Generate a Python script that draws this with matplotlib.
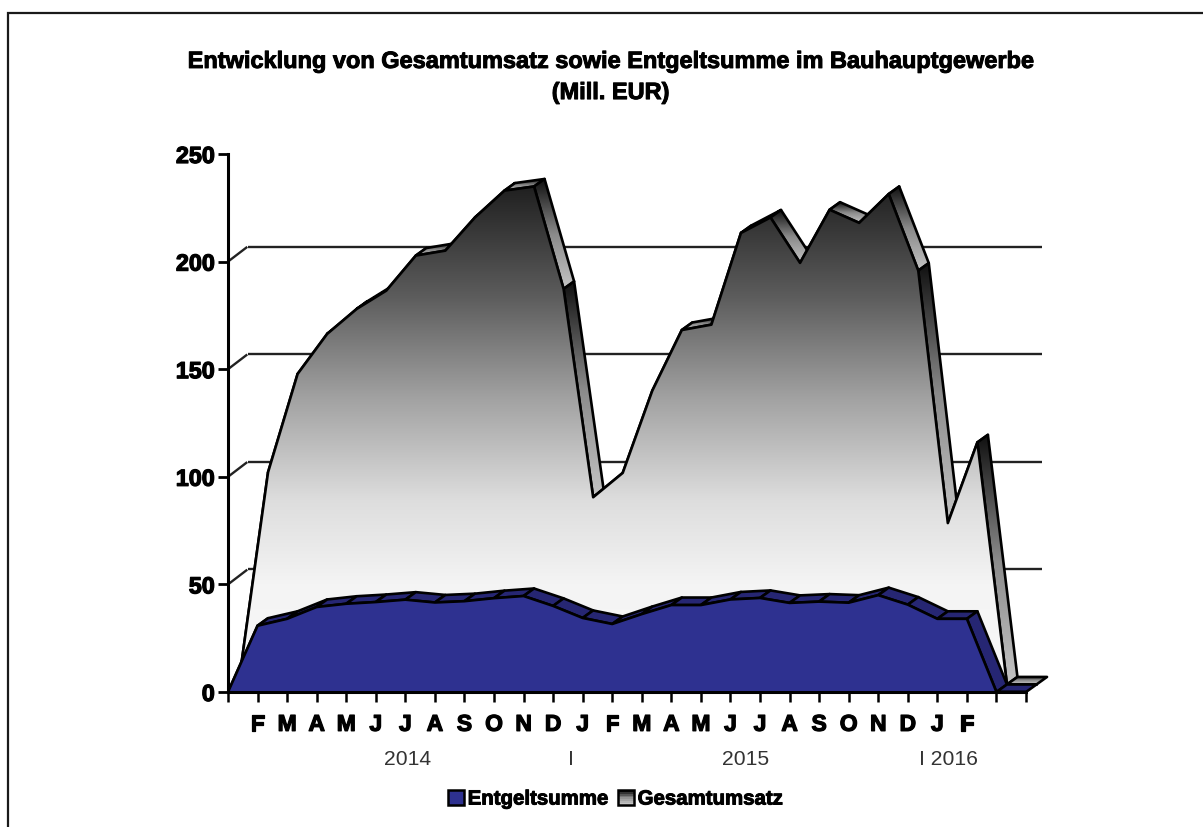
import numpy as np
import matplotlib
matplotlib.use("Agg")
import matplotlib.pyplot as plt
from matplotlib.patches import Polygon, Rectangle, Patch
from matplotlib.lines import Line2D
from matplotlib.colors import LinearSegmentedColormap
from matplotlib.legend_handler import HandlerBase
import matplotlib.patheffects as pe

plt.rcParams['font.family'] = ['Liberation Sans', 'DejaVu Sans']

TITLE = "Entwicklung von Gesamtumsatz sowie Entgeltsumme im Bauhauptgewerbe\n(Mill. EUR)"
months = ["", "F", "M", "A", "M", "J", "J", "A", "S", "O", "N", "D",
          "J", "F", "M", "A", "M", "J", "J", "A", "S", "O", "N", "D",
          "J", "F", "", ""]
entgeltsumme = [0, 30.8, 34, 39.5, 41, 41.8, 42.9, 41.6, 42.2, 43.6, 44.6, 40,
                34.4, 31.6, 36.2, 40.4, 40.4, 43, 43.7, 41.4, 42, 41.5, 45, 40.6,
                34, 34, 0, 0]
gesamtumsatz = [0, 98.6, 144.3, 162.9, 174.5, 183, 199.3, 201.6, 217, 229.5, 231.4, 183.8,
                87, 98.3, 136.5, 164.7, 167.2, 209.8, 217, 195.9, 220.6, 214.5, 227.9, 192.3,
                75, 112.5, 0, 0]
y_ticks = [0, 50, 100, 150, 200, 250]
year_labels = ["2014", "I", "2015", "I 2016"]
year_pos = [6.09, 11.6, 17.5, 24.37]

W, H = 1203, 828
fig = plt.figure(figsize=(W / 100, H / 100), dpi=100, facecolor='white')
TICK_PX = 29.556
x_max = 28.0
ax = fig.add_axes([228 / W, (H - 693) / H, x_max * TICK_PX / W, 538 / H])
ax.set_facecolor('none')

DX, DY = 0.355, 3.5      # depth of one series in the 3-D projection
BLUE, BLUE_TOP = '#2e3190', '#262673'
LW = 1.9

fig.add_artist(Line2D([8 / W, 8 / W, 1], [0, 1 - 14 / H, 1 - 14 / H], transform=fig.transFigure,
                      color='#1a1a1a', lw=1.6, solid_joinstyle='miter'))

# back wall
for v in y_ticks[1:-1]:
    ax.plot([0.68, 27.55], [v + 2 * DY] * 2, color='#222222', lw=1.7, zorder=1, solid_capstyle='butt')
    ax.plot([0, 0.62], [v, v + 2 * DY * 0.93], color='#222222', lw=1.7, zorder=1)

band_cmap = LinearSegmentedColormap.from_list('band', ['#c4c4c4', '#8a8a8a', '#101010'])
front_cmap = LinearSegmentedColormap.from_list(
    'front', [(0, '#f8f8f8'), (0.2, '#f4f4f4'), (0.37, '#dddddd'), (0.57, '#a3a3a3'), (0.78, '#5c5c5c'), (1, '#202020')])
grad = np.linspace(0, 1, 256)[:, None]
x = np.arange(len(months))
g = np.array(gesamtumsatz, float)
e = np.array(entgeltsumme, float)

def gradient(poly, cmap, z):
    xs, ys = poly[:, 0], poly[:, 1]
    y0, y1 = ys.min(), ys.max()
    im = ax.imshow(grad, cmap=cmap, origin='lower', aspect='auto', vmin=0, vmax=1,
                   extent=(xs.min(), xs.max(), y0, max(y1, y0 + 1e-3)), zorder=z, interpolation='bilinear')
    im.set_clip_path(Polygon(poly, closed=True, transform=ax.transData))

# Gesamtumsatz: depth faces
gx, gy = x + DX, g + DY
for i in range(len(x) - 1):
    q = np.array([[gx[i], gy[i]], [gx[i + 1], gy[i + 1]], [gx[i + 1] + DX, gy[i + 1] + DY], [gx[i] + DX, gy[i] + DY]])
    gradient(q, band_cmap, 2 + i * 0.01)
    ax.add_patch(Polygon(q, closed=True, fill=False, ec='black', lw=LW, joinstyle='round', zorder=2 + i * 0.01))

# Gesamtumsatz: front
poly = np.column_stack([np.r_[gx, gx[-1], gx[0]], np.r_[gy, DY, DY]])
im = ax.imshow(grad, cmap=front_cmap, origin='lower', aspect='auto', vmin=0, vmax=1,
               extent=(gx.min(), gx.max(), DY, gy.max()), zorder=3, interpolation='bilinear')
im.set_clip_path(Polygon(poly, closed=True, transform=ax.transData))
ax.add_patch(Polygon(poly, closed=True, fill=False, ec='black', lw=LW, joinstyle='round', zorder=3.1))

# Entgeltsumme: depth faces and front
for i in range(len(x) - 1):
    q = np.array([[x[i], e[i]], [x[i + 1], e[i + 1]], [x[i + 1] + DX, e[i + 1] + DY], [x[i] + DX, e[i] + DY]])
    ax.add_patch(Polygon(q, closed=True, fc=BLUE_TOP, ec='black', lw=LW, joinstyle='round', zorder=4))
ax.fill_between(x, 0, e, color=BLUE, lw=0, zorder=5)
ax.plot(x, e, color='black', lw=LW, zorder=5.1, solid_joinstyle='round')

ax.set_xlim(0, x_max)
ax.set_ylim(0, 250)
for s in ('top', 'right'):
    ax.spines[s].set_visible(False)
ax.spines['bottom'].set_bounds(0, 27)
for s in ('left', 'bottom'):
    ax.spines[s].set_linewidth(2.2)
    ax.spines[s].set_zorder(6)

bold = [pe.withStroke(linewidth=0.9, foreground='black')]
ax.set_xticks(x, months, fontsize=16.5, fontweight='bold', path_effects=bold)
ax.set_yticks(y_ticks, [str(v) for v in y_ticks], fontsize=16.8, fontweight='bold', path_effects=bold)
ax.tick_params(axis='x', length=7, width=1.8, pad=8, color='black')
ax.tick_params(axis='y', length=7, width=2.0, pad=2.5, color='black')

for lab, p in zip(year_labels, year_pos):
    ax.text(p, -66.5 / 2.152, lab, ha='center', va='center', fontsize=15.2, color='#333333',
            transform=ax.transData, clip_on=False)

fig.text(610.5 / W, 1 - 78 / H, TITLE, ha='center', va='center', fontsize=16.95, fontweight='bold',
         linespacing=1.45, path_effects=[pe.withStroke(linewidth=0.7, foreground='black')])

class GradHandler(HandlerBase):
    def create_artists(self, legend, orig, xd, yd, w, h, fs, trans):
        arts = []
        n = 8
        colors = band_cmap(np.linspace(1, 0, n))
        for k in range(n):
            arts.append(Rectangle((-xd, -yd + h * (n - 1 - k) / n), w, h / n, fc=colors[k], ec='none', transform=trans))
        arts.append(Rectangle((-xd, -yd), w, h, fill=False, ec='black', lw=1.8, transform=trans))
        return arts

h1 = Patch(fc=BLUE, ec='black', lw=1.8)
h2 = Patch(fc='#999999')
leg = fig.legend([h1, h2], ['Entgeltsumme', 'Gesamtumsatz'], handler_map={h2: GradHandler()},
                 loc='center', bbox_to_anchor=(615.5 / W, 1 - 800 / H), ncol=2, frameon=False,
                 prop={'size': 14.7, 'weight': 'bold'}, handlelength=0.75, handleheight=0.75,
                 handletextpad=0.2, columnspacing=0.5)
for t in leg.get_texts():
    t.set_path_effects([pe.withStroke(linewidth=0.7, foreground='black')])

fig.savefig('out.png', dpi=100)
